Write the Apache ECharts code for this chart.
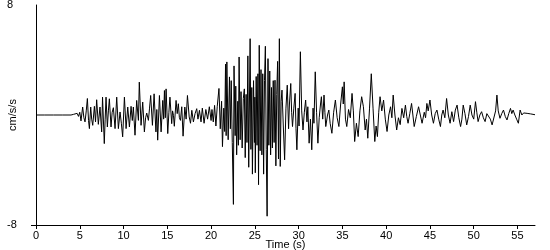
<!DOCTYPE html>
<html>
<head>
<meta charset="utf-8">
<script src="https://cdn.jsdelivr.net/npm/echarts@6/dist/echarts.min.js"></script>
<style>html,body{margin:0;padding:0;background:#fff;}#chart{width:550px;height:250px;}</style>
</head>
<body>
<div id="chart"></div>
<script>
// Accelerogram samples: [time (s), acceleration (cm/s/s)]
const preEvent = [[0,0],[1,0],[2,0],[3,0]];
const pWave = [[4.0,0],[4.3,0.05],[4.5,-0.08],[4.7,0.12],[4.85,-0.1],[5.0,0.2],[5.14,-0.43],[5.33,0.58],[5.47,-0.2],[5.6,-0.5],[5.74,0.3],[5.87,1.2],[6.0,-0.4],[6.1,-0.99],[6.25,0.58],[6.36,-0.3],[6.48,-0.75],[6.67,0.63],[6.8,-0.5],[6.93,1.11],[7.12,-0.68],[7.31,0.58],[7.5,-1.23],[7.6,1.3],[7.8,-2.08],[7.9,-0.3],[8.0,1.3],[8.15,-0.87],[8.27,0.3],[8.38,1.18],[8.57,-0.87],[8.7,0.2],[8.84,0.53],[9.03,-0.99],[9.22,1.3],[9.41,-0.99],[9.6,0.22],[9.75,-0.6],[9.9,-1.59],[10.1,1.3],[10.29,-0.99],[10.48,0.58],[10.67,-0.87],[10.86,0.63],[11.0,-0.4],[11.12,0.58],[11.31,-1.47],[11.5,1.06],[11.7,-0.39],[11.8,2.39],[12.0,-0.75],[12.19,0.94],[12.38,-1.23],[12.52,-0.2],[12.65,0.14],[12.84,-0.39],[12.97,0.5],[13.1,1.42],[13.3,-0.75],[13.49,1.54],[13.7,-1.23],[13.8,0.4],[13.9,-1.83],[14.1,1.42],[14.29,-1.23],[14.48,1.06],[14.58,-0.3],[14.67,1.78],[14.77,-0.2],[14.86,1.9],[15.05,-1.35],[15.18,0.2],[15.3,1.3],[15.5,-0.63],[15.6,0.3],[15.7,-0.02],[15.8,-0.82],[16.0,1.06],[16.13,0.1],[16.26,0.82],[16.38,-0.2],[16.5,-0.39],[16.65,0.6],[16.8,-1.54],[17.0,0.58],[17.15,-0.3],[17.3,1.42],[17.5,-0.14],[17.65,-0.6],[17.8,0.34],[17.98,-0.5],[18.17,0.1],[18.36,0.46],[18.5,-0.3],[18.67,0.34],[18.85,-0.5],[19.0,0.5],[19.2,-0.6],[19.4,0.4],[19.6,-0.3],[19.8,0.6],[20.0,-0.4]];
const strongMotion = [[20.1,0.4],[20.25,-0.5],[20.4,0.7],[20.55,-0.8],[20.7,0.6],[20.9,1.93],[21.05,-1.0],[21.2,1.0],[21.3,-2.3],[21.45,0.5],[21.55,-1.2],[21.65,3.7],[21.72,-1.5],[21.8,3.86],[21.95,-1.8],[22.1,2.77],[22.2,-1.0],[22.3,2.5],[22.42,-2.0],[22.55,-6.5],[22.62,3.57],[22.75,-1.5],[22.82,2.1],[22.92,-2.9],[23.05,1.0],[23.12,-2.2],[23.2,4.22],[23.32,-1.8],[23.42,1.7],[23.55,-2.4],[23.68,1.2],[23.8,1.9],[23.9,-3.1],[24.0,1.5],[24.1,-2.0],[24.2,4.3],[24.3,-3.8],[24.46,5.55],[24.55,-2.5],[24.65,2.0],[24.72,-4.3],[24.85,2.5],[24.95,-2.0],[25.0,1.3],[25.05,-4.2],[25.15,2.8],[25.25,-2.2],[25.35,3.0],[25.42,-5.07],[25.5,5.07],[25.6,-2.6],[25.7,3.3],[25.8,-2.9],[25.9,3.0],[26.0,-4.3],[26.1,2.5],[26.2,5.0],[26.3,-2.5],[26.4,-7.36],[26.5,4.1],[26.6,-2.2],[26.7,3.2],[26.8,-2.9],[26.9,2.0],[27.0,-2.4],[27.1,2.5],[27.2,-2.0],[27.3,2.53],[27.4,-3.7],[27.5,1.5],[27.6,3.9],[27.7,-3.2],[27.8,5.55],[27.9,-3.74],[28.0,1.0]];
const coda = [[28.1,1.81],[28.25,-0.8],[28.4,-3.26],[28.55,0.5],[28.7,2.17],[28.85,-1.0],[28.95,0.8],[29.1,2.29],[29.2,0.2],[29.3,-0.84],[29.45,0.5],[29.6,1.57],[29.7,-1.0],[29.8,-2.53],[29.95,0.5],[30.05,-0.8],[30.2,4.6],[30.35,0.3],[30.5,-1.09],[30.65,0.2],[30.8,1.09],[30.95,-0.5],[31.05,0.6],[31.2,-2.05],[31.35,-0.3],[31.5,-2.53],[31.65,0.5],[31.75,-0.6],[31.9,3.14],[32.05,0.2],[32.2,-2.05],[32.35,-0.2],[32.5,0.8],[32.6,1.33],[32.75,-0.3],[32.9,1.45],[33.0,0.2],[33.1,-0.84],[33.3,0.0],[33.45,0.36],[33.6,-0.6],[33.8,-1.33],[34.0,0.2],[34.2,1.09],[34.4,-0.2],[34.6,-0.84],[34.8,0.8],[35.0,2.05],[35.1,0.8],[35.2,2.41],[35.35,-0.3],[35.5,-0.84],[35.7,0.4],[35.9,-0.2],[36.1,1.57],[36.25,0.3],[36.4,-1.93],[36.6,-0.6],[36.8,-1.57],[37.0,0.3],[37.2,1.33],[37.4,0.6],[37.6,-1.09],[37.75,-0.3],[37.9,-1.69],[38.1,0.5],[38.3,3.0],[38.5,0.5],[38.7,-1.93],[38.85,-0.8],[39.0,-1.57],[39.15,0.2],[39.3,1.33],[39.5,0.3],[39.7,1.09],[39.9,-0.3],[40.1,-1.2],[40.3,0.0],[40.5,0.6],[40.65,-0.2],[40.8,1.45],[41.0,0.0],[41.2,-1.09],[41.4,-0.2],[41.6,-0.7],[41.8,0.48],[42.0,-0.2],[42.2,0.72],[42.35,-0.1],[42.5,-0.6],[42.7,0.1],[42.9,0.84],[43.05,0.0],[43.2,-0.84],[43.45,-0.1],[43.7,0.6],[43.9,0.0],[44.1,-0.6],[44.35,0.2],[44.5,-0.2],[44.65,0.84],[44.8,0.3],[45.0,1.09],[45.2,0.0],[45.4,-0.6],[45.6,0.1],[45.8,0.36],[46.0,-0.3],[46.2,-0.84],[46.35,0.0],[46.5,0.36],[46.7,-0.2],[46.9,1.2],[47.1,0.0],[47.3,-0.6],[47.5,0.24],[47.7,-0.48],[47.9,0.36],[48.1,0.72],[48.3,-0.2],[48.5,-0.84],[48.65,-0.3],[48.8,0.72],[49.0,0.1],[49.2,-0.72],[49.4,-0.12],[49.6,0.72],[49.8,0.0],[50.0,-0.3],[50.2,0.97],[50.35,0.2],[50.5,-0.48],[50.7,0.0],[50.9,0.24],[51.1,-0.2],[51.3,-0.48],[51.5,0.1],[51.7,0.12],[51.9,-0.3],[52.1,-0.72],[52.3,-0.84],[52.5,0.3],[52.65,1.45],[52.8,0.3],[53.0,-0.24],[53.2,0.1],[53.4,0.36],[53.6,-0.1],[53.8,-0.36],[54.0,0.1],[54.2,0.48],[54.35,0.1],[54.5,0.36],[54.7,0.0],[54.9,-0.3],[55.1,-0.6],[55.3,0.36],[55.5,0.0],[55.7,0.15],[55.9,0.05],[56.1,0.12],[56.3,0.05],[56.5,0.08],[56.7,0.03],[57.0,0.02]];

const xTicks = [0,5,10,15,20,25,30,35,40,45,50,55];
const yTicks = [-8, 8];
const xName = 'Time (s)';
const yName = 'cm/s/s';

const series = preEvent.concat(pWave, strongMotion, coda);
const font = 'Liberation Sans';

const chart = echarts.init(document.getElementById('chart'), null, {renderer: 'canvas'});
chart.setOption({
  animation: false,
  backgroundColor: '#fff',
  grid: {left: 36, right: 15, top: 5, bottom: 25, containLabel: false, outerBoundsMode: 'none'},
  xAxis: {
    type: 'value', min: 0, max: 57, interval: 5,
    name: xName, nameLocation: 'middle', nameGap: 14, nameMoveOverlap: false,
    nameTextStyle: {color: '#000', fontFamily: font, fontSize: 11},
    axisLine: {show: true, onZero: false, lineStyle: {color: '#000', width: 1}},
    axisTick: {show: true, length: 4, lineStyle: {color: '#000'}, customValues: xTicks},
    axisLabel: {color: '#000', fontFamily: font, fontSize: 11, margin: 5, customValues: xTicks},
    splitLine: {show: false}
  },
  yAxis: {
    type: 'value', min: -8, max: 8, interval: 16,
    name: yName, nameLocation: 'middle', nameGap: 18, nameRotate: 90, nameMoveOverlap: false,
    nameTextStyle: {color: '#000', fontFamily: font, fontSize: 11},
    axisLine: {show: true, onZero: false, lineStyle: {color: '#000', width: 1}},
    axisTick: {show: true, length: 5, lineStyle: {color: '#000'}, customValues: [-8]},
    axisLabel: {color: '#000', fontFamily: font, fontSize: 11, margin: 29, align: 'left', customValues: yTicks},
    splitLine: {show: false}
  },
  series: [{
    type: 'line', data: series, symbol: 'none', sampling: null,
    lineStyle: {color: '#000', width: 1}
  }]
});
</script>
</body>
</html>
